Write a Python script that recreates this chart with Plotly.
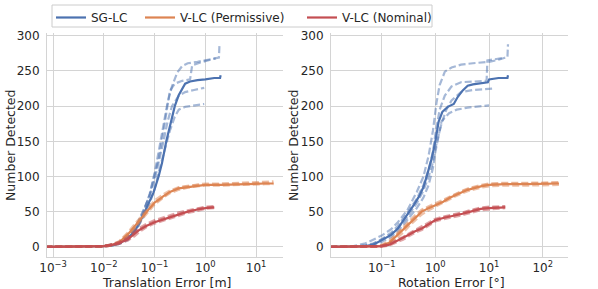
import plotly.graph_objects as go

# ---------------- data: translation error [m] ----------------
trans_sg_x = [0.0007, 0.005, 0.01, 0.015, 0.02, 0.03, 0.04, 0.05, 0.065, 0.08, 0.095, 0.12, 0.14, 0.17, 0.2, 0.25, 0.3, 0.4, 0.5, 0.7, 1.0, 1.5, 1.95, 2.0]
trans_sg_y = [0, 0, 1, 2, 5, 12, 22, 33, 50, 64, 77, 100, 119, 150, 170, 200, 216, 232, 235, 237, 238, 240, 240, 244]

trans_sg_run1_x = [0.0007, 0.01, 0.02, 0.03, 0.045, 0.06, 0.08, 0.1, 0.12, 0.15, 0.18, 0.22, 0.28, 0.35, 0.45, 0.7, 1.0, 1.4, 1.85, 1.9]
trans_sg_run1_y = [0, 1, 4, 11, 28, 48, 75, 105, 135, 175, 205, 228, 248, 257, 261, 263, 265, 267, 269, 288]
trans_sg_run2_x = [0.0007, 0.01, 0.02, 0.03, 0.045, 0.06, 0.08, 0.1, 0.12, 0.15, 0.18, 0.22, 0.3, 0.4, 0.6, 0.95]
trans_sg_run2_y = [0, 1, 6, 14, 32, 52, 72, 95, 118, 150, 178, 200, 215, 220, 223, 226]
trans_sg_run3_x = [0.0007, 0.01, 0.02, 0.03, 0.045, 0.06, 0.08, 0.1, 0.13, 0.16, 0.2, 0.25, 0.3, 0.4, 0.6, 0.95]
trans_sg_run3_y = [0, 0, 4, 10, 26, 42, 62, 82, 115, 140, 165, 185, 195, 199, 201, 203]
trans_sg_run4_x = [0.0007, 0.01, 0.02, 0.03, 0.045, 0.06, 0.08, 0.1, 0.12, 0.15, 0.2, 0.25, 0.35, 0.5, 0.55, 0.8, 1.2, 1.6]
trans_sg_run4_y = [0, 1, 5, 13, 30, 50, 74, 100, 125, 165, 222, 232, 236, 238, 258, 262, 265, 268]

trans_vp_x = [0.0007, 0.005, 0.01, 0.015, 0.02, 0.03, 0.04, 0.05, 0.07, 0.1, 0.15, 0.2, 0.3, 0.45, 0.7, 1.0, 2, 4, 8, 15, 22]
trans_vp_y = [0, 0, 1, 3, 6, 18, 28, 37, 50, 63, 72, 78, 83, 85, 87, 88, 88, 89, 89, 90, 90]
trans_vp_run1_y = [0, 0, 1, 4, 8, 21, 32, 41, 54, 66, 75, 80, 85, 87, 89, 90, 90, 91, 91, 92, 93]
trans_vp_run2_y = [0, 0, 0, 2, 5, 15, 25, 34, 47, 60, 70, 76, 81, 84, 86, 87, 87, 88, 88, 89, 89]
trans_vp_run3_y = [0, 0, 1, 3, 7, 19, 27, 38, 50, 62, 71, 78, 84, 86, 88, 88, 89, 90, 90, 91, 91]

trans_vn_x = [0.0007, 0.005, 0.01, 0.015, 0.02, 0.03, 0.04, 0.05, 0.07, 0.1, 0.15, 0.2, 0.3, 0.45, 0.7, 1.0, 1.5]
trans_vn_y = [0, 0, 1, 3, 5, 11, 18, 24, 30, 35, 39, 42, 46, 50, 53, 55, 56]
trans_vn_run1_y = [0, 0, 1, 4, 7, 14, 21, 27, 33, 38, 42, 45, 49, 52, 55, 57, 58]
trans_vn_run2_y = [0, 0, 0, 2, 4, 9, 15, 21, 28, 33, 37, 40, 44, 48, 51, 54, 55]
trans_vn_run3_y = [0, 0, 1, 3, 6, 12, 19, 25, 31, 36, 40, 43, 47, 50, 54, 56, 57]

# ---------------- data: rotation error [deg] ----------------
rot_sg_x = [0.011, 0.03, 0.05, 0.07, 0.1, 0.15, 0.2, 0.3, 0.4, 0.5, 0.6, 0.7, 0.85, 1.0, 1.15, 1.35, 1.7, 2.2, 2.6, 3.2, 4, 5, 7, 9.5, 10, 15, 22, 22.5]
rot_sg_y = [0, 0, 1, 3, 9, 17, 26, 45, 60, 72, 85, 102, 125, 150, 178, 192, 199, 203, 213, 222, 229, 231, 233, 234, 238, 240, 240, 244]

rot_sg_run1_x = [0.011, 0.03, 0.05, 0.07, 0.1, 0.15, 0.2, 0.3, 0.45, 0.6, 0.75, 0.9, 1.05, 1.2, 1.5, 2, 3, 5, 10, 15, 22, 22.5]
rot_sg_run1_y = [0, 1, 5, 10, 16, 25, 35, 52, 78, 100, 130, 165, 205, 230, 249, 255, 259, 261, 263, 266, 270, 288]
rot_sg_run2_x = [0.011, 0.03, 0.05, 0.07, 0.1, 0.15, 0.2, 0.3, 0.45, 0.6, 0.75, 0.9, 1.0, 1.3, 1.6, 2.0, 3.0, 5.0, 12]
rot_sg_run2_y = [0, 0, 2, 5, 10, 18, 26, 42, 62, 80, 100, 120, 140, 175, 195, 208, 220, 223, 225]
rot_sg_run3_x = [0.011, 0.03, 0.05, 0.07, 0.1, 0.15, 0.2, 0.3, 0.45, 0.6, 0.75, 0.9, 1.0, 1.3, 1.8, 2.5, 4, 10]
rot_sg_run3_y = [0, 0, 1, 3, 7, 14, 22, 38, 55, 70, 88, 112, 135, 178, 190, 195, 198, 201]
rot_sg_run4_x = [0.011, 0.03, 0.05, 0.07, 0.1, 0.15, 0.2, 0.3, 0.45, 0.6, 0.75, 0.9, 1.0, 1.2, 1.5, 2, 3, 9, 9.3, 15, 20]
rot_sg_run4_y = [0, 0, 2, 4, 11, 20, 30, 48, 68, 88, 110, 135, 160, 195, 215, 228, 234, 236, 265, 268, 269]

rot_vp_x = [0.011, 0.05, 0.08, 0.1, 0.14, 0.18, 0.25, 0.32, 0.42, 0.56, 0.75, 1.0, 1.4, 1.9, 2.4, 3.2, 4, 5.6, 7, 10, 20, 50, 100, 200]
rot_vp_y = [0, 0, 0, 1, 6, 14, 24, 33, 41, 50, 55, 59, 64, 70, 74, 78, 81, 84, 86, 88, 89, 89, 90, 90]
rot_vp_run1_y = [0, 0, 1, 3, 9, 17, 28, 37, 45, 53, 58, 62, 67, 72, 76, 80, 83, 86, 88, 90, 91, 91, 92, 92]
rot_vp_run2_y = [0, 0, 0, 1, 4, 11, 20, 29, 37, 46, 52, 57, 62, 68, 72, 76, 79, 82, 84, 86, 87, 87, 88, 88]
rot_vp_run3_y = [0, 0, 0, 2, 7, 15, 25, 34, 42, 51, 56, 60, 65, 71, 75, 79, 82, 85, 87, 89, 90, 90, 91, 91]

rot_vn_x = [0.011, 0.05, 0.08, 0.1, 0.14, 0.18, 0.25, 0.32, 0.42, 0.56, 0.75, 1.0, 1.4, 1.9, 2.4, 3.2, 4, 5.6, 7, 10, 15, 20]
rot_vn_y = [0, 0, 0, 1, 3, 7, 12, 17, 22, 26, 32, 38, 41, 43, 45, 47, 49, 52, 54, 55, 56, 56]
rot_vn_run1_y = [0, 0, 1, 2, 5, 9, 14, 19, 24, 29, 35, 40, 43, 45, 47, 49, 51, 54, 56, 57, 58, 58]
rot_vn_run2_y = [0, 0, 0, 0, 2, 5, 10, 15, 20, 24, 30, 36, 39, 41, 43, 45, 47, 50, 52, 53, 54, 55]
rot_vn_run3_y = [0, 0, 0, 1, 3, 8, 13, 18, 23, 27, 33, 38, 42, 44, 46, 48, 50, 53, 55, 56, 57, 57]

tick_vals_y = [0, 50, 100, 150, 200, 250, 300]
trans_tick_vals = [0.001, 0.01, 0.1, 1, 10]
trans_tick_text = ["10<sup>−3</sup>", "10<sup>−2</sup>", "10<sup>−1</sup>", "10<sup>0</sup>", "10<sup>1</sup>"]
rot_tick_vals = [0.1, 1, 10, 100]
rot_tick_text = ["10<sup>−1</sup>", "10<sup>0</sup>", "10<sup>1</sup>", "10<sup>2</sup>"]

# ---------------- styling ----------------
BLUE = "#4C72B0"
ORANGE = "#DD8452"
RED = "#C44E52"
TEXT = "#262626"
GRID = "#d4d4d4"
FONT = "DejaVu Sans"

W, H = 598, 289
ML, MR, MT, MB = 47, 30, 33, 32
PW, PH = W - ML - MR, H - MT - MB          # plot area in px


def px_x(px):
    return (px - ML) / PW


def px_y(py):
    return (H - MB - py) / PH


def rgba(hex_color, a):
    h = hex_color.lstrip("#")
    return "rgba(%d,%d,%d,%.2f)" % (int(h[0:2], 16), int(h[2:4], 16), int(h[4:6], 16), a)


fig = go.Figure()


def add_run(x, y, color, xa, ya):
    fig.add_trace(go.Scatter(x=x, y=y, mode="lines", xaxis=xa, yaxis=ya, showlegend=False,
                             hoverinfo="skip",
                             line=dict(color=rgba(color, 0.5), width=2.2, dash="7px,3px")))


def add_mean(x, y, color, name, xa, ya, show, legend_id):
    fig.add_trace(go.Scatter(x=x, y=y, mode="lines", xaxis=xa, yaxis=ya, name=name,
                             showlegend=show, legendgroup=name, legend=legend_id,
                             line=dict(color=color, width=2.2)))


# Left panel: translation
for rx, ry in [(trans_sg_run1_x, trans_sg_run1_y), (trans_sg_run2_x, trans_sg_run2_y),
               (trans_sg_run3_x, trans_sg_run3_y), (trans_sg_run4_x, trans_sg_run4_y)]:
    add_run(rx, ry, BLUE, "x", "y")
add_mean(trans_sg_x, trans_sg_y, BLUE, "SG-LC", "x", "y", True, "legend")
for ry in [trans_vp_run1_y, trans_vp_run2_y, trans_vp_run3_y]:
    add_run(trans_vp_x, ry, ORANGE, "x", "y")
add_mean(trans_vp_x, trans_vp_y, ORANGE, "V-LC (Permissive)", "x", "y", True, "legend2")
for ry in [trans_vn_run1_y, trans_vn_run2_y, trans_vn_run3_y]:
    add_run(trans_vn_x, ry, RED, "x", "y")
add_mean(trans_vn_x, trans_vn_y, RED, "V-LC (Nominal)", "x", "y", True, "legend3")

# Right panel: rotation
for rx, ry in [(rot_sg_run1_x, rot_sg_run1_y), (rot_sg_run2_x, rot_sg_run2_y),
               (rot_sg_run3_x, rot_sg_run3_y), (rot_sg_run4_x, rot_sg_run4_y)]:
    add_run(rx, ry, BLUE, "x2", "y2")
add_mean(rot_sg_x, rot_sg_y, BLUE, "SG-LC", "x2", "y2", False, "legend")
for ry in [rot_vp_run1_y, rot_vp_run2_y, rot_vp_run3_y]:
    add_run(rot_vp_x, ry, ORANGE, "x2", "y2")
add_mean(rot_vp_x, rot_vp_y, ORANGE, "V-LC (Permissive)", "x2", "y2", False, "legend2")
for ry in [rot_vn_run1_y, rot_vn_run2_y, rot_vn_run3_y]:
    add_run(rot_vn_x, ry, RED, "x2", "y2")
add_mean(rot_vn_x, rot_vn_y, RED, "V-LC (Nominal)", "x2", "y2", False, "legend3")

xcommon = dict(type="log", showgrid=True, gridcolor=GRID, automargin=False,
               gridwidth=1, showline=True, linecolor=GRID, linewidth=1, zeroline=False,
               ticks="", tickfont=dict(family=FONT, size=12, color=TEXT))
ycommon = dict(range=[-14.5, 304], tickvals=tick_vals_y, showgrid=True, gridcolor=GRID, gridwidth=1,
               showline=True, linecolor=GRID, linewidth=1, zeroline=False, ticks="", automargin=False,
               ticklabelstandoff=4, tickfont=dict(family=FONT, size=12, color=TEXT),
               domain=[0, 1])


def legend_at(px_left):
    return dict(orientation="h", x=px_x(px_left), xanchor="left", y=px_y(3), yanchor="top",
                bgcolor="rgba(0,0,0,0)", borderwidth=0,
                font=dict(family=FONT, size=12, color=TEXT))


fig.update_layout(
    width=W, height=H,
    margin=dict(l=ML, r=MR, t=MT, b=MB, autoexpand=False),
    paper_bgcolor="white", plot_bgcolor="white",
    font=dict(family=FONT, size=12, color=TEXT),
    xaxis=dict(domain=[0, 236 / PW], range=[-3.12, 1.53], anchor="y",
               tickvals=trans_tick_vals, ticktext=trans_tick_text, **xcommon),
    yaxis=dict(anchor="x", **ycommon),
    xaxis2=dict(domain=[284 / PW, 1], range=[-1.944, 2.47], anchor="y2",
                tickvals=rot_tick_vals, ticktext=rot_tick_text, **xcommon),
    yaxis2=dict(anchor="x2", **ycommon),
    legend=legend_at(51),
    legend2=legend_at(140),
    legend3=legend_at(302),
    showlegend=True,
)

# legend frame spanning all three entries
fig.add_shape(type="rect", xref="paper", yref="paper",
              x0=px_x(52), x1=px_x(432), y0=px_y(27), y1=px_y(5),
              line=dict(color="#cccccc", width=1), fillcolor="white", layer="above")

ann = dict(showarrow=False, font=dict(family=FONT, size=12.5, color=TEXT), xref="paper", yref="paper")
fig.add_annotation(text="Number Detected", x=px_x(10), y=px_y(145), textangle=-90, xanchor="center", yanchor="middle", **ann)
fig.add_annotation(text="Number Detected", x=px_x(293), y=px_y(145), textangle=-90, xanchor="center", yanchor="middle", **ann)
fig.add_annotation(text="Translation Error [m]", x=px_x(166), y=px_y(282), xanchor="center", yanchor="middle", **ann)
fig.add_annotation(text="Rotation Error [°]", x=px_x(451), y=px_y(282), xanchor="center", yanchor="middle", **ann)

fig.write_html("out.html", config={"displayModeBar": False},
               post_script="document.body.style.margin='0px';")
